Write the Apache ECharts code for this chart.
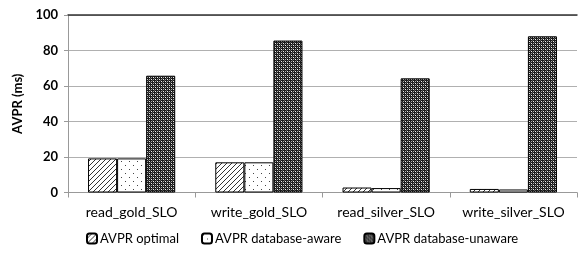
<!DOCTYPE html>
<html><head><meta charset="utf-8">
<script src="https://cdn.jsdelivr.net/npm/echarts@6/dist/echarts.min.js"></script>
<style>html,body{margin:0;padding:0;background:#fff}#c{width:579px;height:255px}</style>
</head><body><div id="c"></div>
<script>
const categories = ['read_gold_SLO','write_gold_SLO','read_silver_SLO','write_silver_SLO'];
const seriesNames = ['AVPR optimal','AVPR database-aware','AVPR database-unaware'];
const optimal = [19.2, 17.0, 2.8, 2.0];
const dbAware = [19.2, 17.0, 2.5, 1.7];
const dbUnaware = [65.8, 85.6, 64.3, 88.0];
const yTicks = [0, 20, 40, 60, 80, 100];

function makePattern(kind){
  const c = document.createElement('canvas');
  const ctx = c.getContext('2d');
  if(kind==='hatch'){
    c.width=5;c.height=5;
    ctx.fillStyle='#fff';ctx.fillRect(0,0,5,5);
    ctx.strokeStyle='#333';ctx.lineWidth=1;
    ctx.beginPath();
    ctx.moveTo(0,5);ctx.lineTo(5,0);
    ctx.moveTo(-1,1);ctx.lineTo(1,-1);
    ctx.moveTo(4,6);ctx.lineTo(6,4);
    ctx.stroke();
  } else if(kind==='dots'){
    c.width=8;c.height=8;
    ctx.fillStyle='#fff';ctx.fillRect(0,0,8,8);
    ctx.fillStyle='#444';
    ctx.fillRect(1,1,1,1);ctx.fillRect(5,5,1,1);
  } else {
    c.width=4;c.height=4;
    ctx.fillStyle='#1a1a1a';ctx.fillRect(0,0,4,4);
    ctx.fillStyle='#eee';
    ctx.fillRect(1,1,1,1);ctx.fillRect(3,3,1,1);
    ctx.fillStyle='#aaa';
    ctx.fillRect(3,1,1,1);ctx.fillRect(1,3,1,1);
    ctx.fillStyle='#555';
    ctx.fillRect(0,0,1,1);ctx.fillRect(2,2,1,1);
  }
  return {image:c, repeat:'repeat'};
}
const pats = [makePattern('hatch'), makePattern('dots'), makePattern('check')];
const values = [optimal, dbAware, dbUnaware];

const chart = echarts.init(document.getElementById('c'));
chart.setOption({
  animation:false,
  grid:{left:68,right:2,top:15,bottom:62.5},
  legend:{
    bottom:5,left:81,itemWidth:10,itemHeight:10,itemGap:22,
    textStyle:{fontFamily:'Lato',fontSize:13,color:'#000',padding:[0,0,0,-2]},
    data:seriesNames
  },
  xAxis:[{
    type:'category',data:categories,
    axisLine:{lineStyle:{color:'#999'}},
    axisTick:{show:true,length:5,lineStyle:{color:'#999'}},
    axisLabel:{interval:0,color:'#000',fontFamily:'Lato',fontSize:14,margin:13}
  },{
    type:'category',position:'top',data:categories,
    axisLine:{lineStyle:{color:'#333',width:1.5}},
    axisTick:{show:false},axisLabel:{show:false}
  }],
  yAxis:{
    type:'value',min:0,max:100,interval:20,
    name:'AVPR (ms)',nameLocation:'middle',nameGap:42,
    nameTextStyle:{fontFamily:'Lato',fontWeight:'bold',fontSize:13,color:'#000'},
    axisLine:{show:true,lineStyle:{color:'#999'}},
    axisTick:{show:true,length:4,lineStyle:{color:'#999'}},
    axisLabel:{color:'#000',fontFamily:'Lato',fontWeight:'bold',fontSize:13,margin:10},
    splitLine:{lineStyle:{color:'#b0b0b0'}}
  },
  series: seriesNames.map((n,i)=>({
    name:n,type:'bar',data:values[i],
    barGap:'0%',barCategoryGap:'31.5%',
    itemStyle:{color:pats[i],borderColor:'#000',borderWidth:1}
  }))
});
</script></body></html>
